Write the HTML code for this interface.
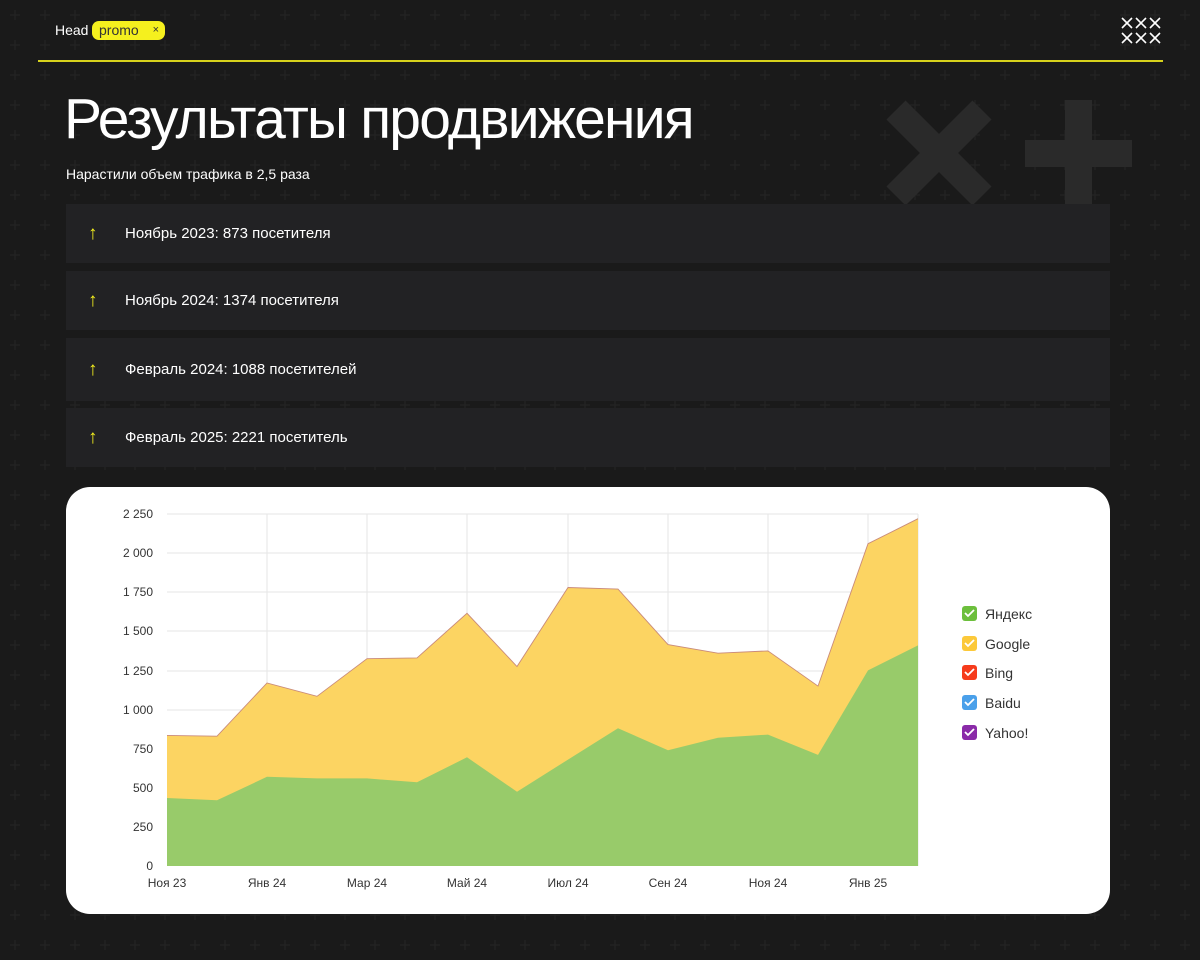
<!DOCTYPE html>
<html><head><meta charset="utf-8"><style>
body{margin:0;width:1200px;height:960px;background:#1a1a1a;font-family:"Liberation Sans",sans-serif;position:relative;overflow:hidden}
.bg{position:absolute;left:0;top:0}
.head{position:absolute;left:55px;top:22px;color:#fff;font-size:14px}
.promo{position:absolute;left:92px;top:21px;width:73px;height:19px;background:#f5f01e;border-radius:7px;color:#333;font-size:14px;line-height:19px;padding-left:7px;box-sizing:border-box}
.promo span{position:absolute;right:6px;font-size:11px}
.line{position:absolute;left:38px;top:60px;width:1125px;height:2px;background:#d7d21c}
h1{position:absolute;left:64px;top:86px;margin:0;color:#fff;font-weight:normal;font-size:57px;letter-spacing:-1.8px}
.sub{position:absolute;left:66px;top:166px;color:#fff;font-size:14px}
.bar{position:absolute;left:66px;width:1044px;background:#222224;color:#fff;font-size:15px}
.bar b{position:absolute;left:22px;color:#f5f01e;font-weight:normal;font-size:19px}
.bar span{position:absolute;left:59px}
.card{position:absolute;left:66px;top:487px;width:1044px;height:427px;background:#fff;border-radius:24px}
</style></head><body>
<svg class="bg" width="1200" height="960">
<defs><pattern id="p" x="0" y="0" width="30" height="30" patternUnits="userSpaceOnUse">
<path d="M15 10v10M10 15h10" stroke="#252525" stroke-width="1"/></pattern></defs>
<rect width="1200" height="960" fill="url(#p)"/>
<g stroke="#2a2a2a" stroke-width="27"><path d="M896 110L982 196M982 110L896 196"/></g>
<rect x="1065" y="100" width="27" height="105" fill="#2a2a2a"/><rect x="1025" y="140" width="107" height="27" fill="#2a2a2a"/>
<g stroke="#fff" stroke-width="1.6"><path d="M1122 18l10 10M1132 18l-10 10M1136 18l10 10M1146 18l-10 10M1150 18l10 10M1160 18l-10 10M1122 33l10 10M1132 33l-10 10M1136 33l10 10M1146 33l-10 10M1150 33l10 10M1160 33l-10 10"/></g>
</svg>
<div class="head">Head</div><div class="promo">promo<span>×</span></div>
<div class="line"></div>
<h1>Результаты продвижения</h1>
<div class="sub">Нарастили объем трафика в 2,5 раза</div>
<div class="bar" style="top:204px;height:59px;line-height:59px"><b>↑</b><span>Ноябрь 2023: 873 посетителя</span></div>
<div class="bar" style="top:271px;height:59px;line-height:59px"><b>↑</b><span>Ноябрь 2024: 1374 посетителя</span></div>
<div class="bar" style="top:338px;height:63px;line-height:63px"><b>↑</b><span>Февраль 2024: 1088 посетителей</span></div>
<div class="bar" style="top:408px;height:59px;line-height:59px"><b>↑</b><span>Февраль 2025: 2221 посетитель</span></div>
<div class="card"></div>
<svg class="bg" width="1200" height="960" style="font-family:'Liberation Sans',sans-serif">
<g stroke="#e6e6e6" stroke-width="1">
<path d="M167 827H918M167 788H918M167 749H918M167 710H918M167 671H918M167 631H918M167 592H918M167 553H918M167 514H918"/>
<path d="M267 514V866M367 514V866M467 514V866M568 514V866M668 514V866M768 514V866M868 514V866M918 514V866"/>
</g>
<polygon fill="#fcd462" points="167,866 167,735.4 217,736.2 267,683 317,696.3 367,658.7 417,657.9 467,613.3 517,666.5 568,587.5 618,589.1 668,644.6 718,653.2 768,650.9 818,686.1 868,543.7 918,518.7 918,866"/>
<polyline fill="none" stroke="#c98a7a" stroke-width="0.9" points="167,735.4 217,736.2 267,683 317,696.3 367,658.7 417,657.9 467,613.3 517,666.5 568,587.5 618,589.1 668,644.6 718,653.2 768,650.9 818,686.1 868,543.7 918,518.7"/>
<polygon fill="#98cb6a" points="167,866 167,798 217,800.3 267,776.8 317,778.4 367,778.4 417,782.3 467,757.3 517,791.7 568,759.6 618,728.3 668,750.2 718,737.7 768,734.6 818,754.9 868,670.4 918,645.4 918,866"/>
<g font-size="12" fill="#333" text-anchor="end">
<text x="153" y="870">0</text><text x="153" y="831">250</text><text x="153" y="792">500</text><text x="153" y="753">750</text><text x="153" y="714">1 000</text><text x="153" y="675">1 250</text><text x="153" y="635">1 500</text><text x="153" y="596">1 750</text><text x="153" y="557">2 000</text><text x="153" y="518">2 250</text>
</g>
<g font-size="12" fill="#333" text-anchor="middle">
<text x="167" y="887">Ноя 23</text><text x="267" y="887">Янв 24</text><text x="367" y="887">Мар 24</text><text x="467" y="887">Май 24</text><text x="568" y="887">Июл 24</text><text x="668" y="887">Сен 24</text><text x="768" y="887">Ноя 24</text><text x="868" y="887">Янв 25</text>
</g>
<g font-size="14" fill="#333">
<rect x="962" y="606" width="15" height="15" rx="3" fill="#6cbf3c"/><text x="985" y="619">Яндекс</text>
<rect x="962" y="636" width="15" height="15" rx="3" fill="#fcc93a"/><text x="985" y="649">Google</text>
<rect x="962" y="665" width="15" height="15" rx="3" fill="#f63b1c"/><text x="985" y="678">Bing</text>
<rect x="962" y="695" width="15" height="15" rx="3" fill="#4aa0ea"/><text x="985" y="708">Baidu</text>
<rect x="962" y="725" width="15" height="15" rx="3" fill="#8a2aa8"/><text x="985" y="738">Yahoo!</text>
<g stroke="#fff" stroke-width="1.8" fill="none"><path d="M965 613l3 3 6-6M965 643l3 3 6-6M965 672l3 3 6-6M965 702l3 3 6-6M965 732l3 3 6-6"/></g>
</g>
</svg>
</body></html>
